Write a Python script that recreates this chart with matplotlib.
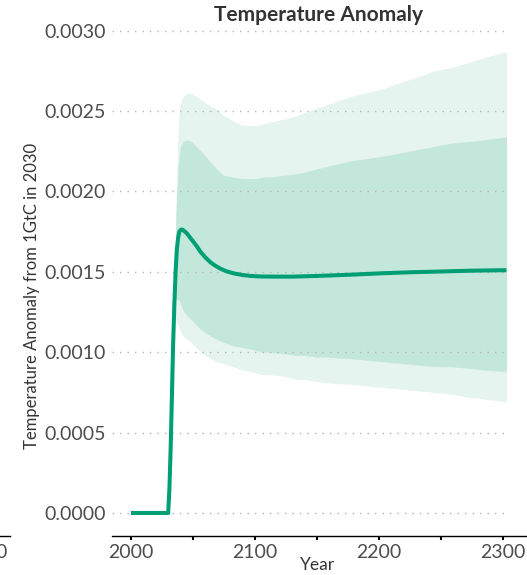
import matplotlib
matplotlib.use("Agg")
import matplotlib.pyplot as plt
from matplotlib.ticker import FixedLocator, FormatStrFormatter

plt.rcParams['font.family'] = ['Lato', 'DejaVu Sans']

# Median temperature response to a 1 GtC pulse emitted in 2030
years = [2000, 2030, 2031, 2032, 2033, 2034, 2035, 2036, 2037, 2038, 2039,
         2040, 2041, 2042, 2043, 2045, 2047, 2050, 2053, 2056, 2060, 2064,
         2068, 2072, 2077, 2083, 2090, 2097, 2104, 2115, 2130, 2145, 2160,
         2180, 2200, 2225, 2250, 2275, 2303]
median = [0.0, 0.0, 0.00015, 0.0004, 0.00072, 0.00105, 0.0013, 0.0015,
          0.00164, 0.00171, 0.00175, 0.00176, 0.001763, 0.00176, 0.001753,
          0.00174, 0.00172, 0.00169, 0.00166, 0.001625, 0.00159, 0.00156,
          0.001538, 0.00152, 0.001503, 0.00149, 0.00148, 0.001474, 0.001471,
          0.00147, 0.00147, 0.001473, 0.001477, 0.001483, 0.00149, 0.001497,
          0.001502, 0.001507, 0.00151]

# Uncertainty ranges (inner and outer percentile bands)
band_years = [2036, 2037, 2038, 2039, 2040, 2042, 2045, 2049, 2055, 2060,
              2069, 2075, 2082, 2090, 2096, 2101, 2107, 2112, 2123, 2134,
              2140, 2150, 2155, 2177, 2204, 2218, 2231, 2245, 2258, 2272,
              2284, 2303]
outer_upper = [0.00185, 0.0021, 0.00238, 0.0025, 0.00255, 0.00259, 0.00261,
               0.00261, 0.00258, 0.00255, 0.00251, 0.00247, 0.00244, 0.00241,
               0.00241, 0.00241, 0.00242, 0.00243, 0.00245, 0.00247, 0.00249,
               0.00252, 0.00253, 0.00259, 0.00264, 0.00268, 0.00271, 0.00275,
               0.00277, 0.00280, 0.00283, 0.00287]
inner_upper = [0.0018, 0.0020, 0.00215, 0.00223, 0.00228, 0.00231, 0.00232,
               0.00231, 0.00226, 0.00222, 0.00214, 0.00210, 0.00209, 0.00208,
               0.00208, 0.00208, 0.00209, 0.00209, 0.00210, 0.00211, 0.00212,
               0.00214, 0.00215, 0.00219, 0.00222, 0.00224, 0.00226, 0.00228,
               0.00230, 0.00231, 0.00232, 0.00234]
inner_lower = [0.00132, 0.00133, 0.00133, 0.00132, 0.00130, 0.00126, 0.00123,
               0.00120, 0.00115, 0.00112, 0.00108, 0.00106, 0.00104, 0.00103,
               0.00102, 0.00101, 0.00100, 0.00100, 0.00099, 0.00098, 0.00098,
               0.00097, 0.00097, 0.00096, 0.00094, 0.00093, 0.00092, 0.00091,
               0.00091, 0.00090, 0.00089, 0.00088]
outer_lower = [0.0012, 0.00119, 0.00117, 0.00115, 0.00113, 0.00110, 0.00108,
               0.00106, 0.00101, 0.00098, 0.00094, 0.00093, 0.00091, 0.00089,
               0.00088, 0.00087, 0.00086, 0.00086, 0.00085, 0.00083, 0.00083,
               0.00082, 0.00081, 0.00080, 0.00078, 0.00077, 0.00076, 0.00075,
               0.00074, 0.00072, 0.00071, 0.00069]

y_ticks = [0.0, 0.0005, 0.0010, 0.0015, 0.0020, 0.0025, 0.0030]
x_major = [2000, 2100, 2200, 2300]
x_minor = [2050, 2150, 2250]

LINE = '#009E73'
INNER = '#C4E7DC'
OUTER = '#E5F4EF'
TEXT = '#4D4D4D'

W, H = 527, 575
fig = plt.figure(figsize=(W / 100, H / 100), dpi=100)


def frac_box(x0, y0, x1, y1):
    return [x0 / W, 1 - y1 / H, (x1 - x0) / W, (y1 - y0) / H]


ax = fig.add_axes(frac_box(112, 25, 530, 536))
ax.set_xlim(1984.67, 2322.0)
ax.set_ylim(-0.0001432, 0.003035)

ax.fill_between(band_years, outer_lower, outer_upper, color=OUTER, lw=0, zorder=1)
ax.fill_between(band_years, inner_lower, inner_upper, color=INNER, lw=0, zorder=2)
ax.hlines(y_ticks, ax.get_xlim()[0], years[-1], colors='#B5B5B5',
          linestyles=(0, (1, 4.4)), lw=1.0, zorder=3)
ax.plot(years, median, color=LINE, lw=2.9, solid_capstyle='butt',
        solid_joinstyle='round', zorder=4)

for side in ('left', 'right', 'top'):
    ax.spines[side].set_visible(False)
ax.spines['bottom'].set_linewidth(1.0)
ax.spines['bottom'].set_color('black')

ax.set_yticks(y_ticks)
ax.yaxis.set_major_formatter(FormatStrFormatter('%.4f'))
ax.tick_params(axis='y', length=0, pad=4.5, labelsize=14, labelcolor=TEXT)

ax.set_xticks(x_major)
ax.xaxis.set_minor_locator(FixedLocator(x_minor))
ax.tick_params(axis='x', which='both', direction='out', length=3, width=1.5,
               color='black', pad=2.5, labelsize=14, labelcolor=TEXT)

# Neighbouring panel sharing the same time axis
ax2 = fig.add_axes(frac_box(-400, 25, 10, 536))
ax2.set_xlim(1984.67, 2300 + 26 / 1.239)
ax2.set_ylim(-0.0001432, 0.003035)
for side in ('left', 'right', 'top'):
    ax2.spines[side].set_visible(False)
ax2.spines['bottom'].set_linewidth(1.0)
ax2.set_yticks([])
ax2.set_xticks(x_major)
ax2.xaxis.set_minor_locator(FixedLocator(x_minor))
ax2.tick_params(axis='x', which='both', direction='out', length=3, width=1.5,
                pad=2.5, labelsize=14, labelcolor=TEXT)
ax2.patch.set_visible(False)

fig.text(318 / W, 1 - 15 / H, 'Temperature Anomaly', ha='center', va='center',
         fontsize=15, fontweight='bold', color='#333333')
fig.text(32 / W, 1 - 296 / H, 'Temperature Anomaly from 1GtC in 2030',
         rotation=90, ha='center', va='center', fontsize=12, color='#333333')
fig.text(317 / W, 1 - 565 / H, 'Year', ha='center', va='center',
         fontsize=12.5, color='#333333')

fig.savefig('out.png', dpi=100)
